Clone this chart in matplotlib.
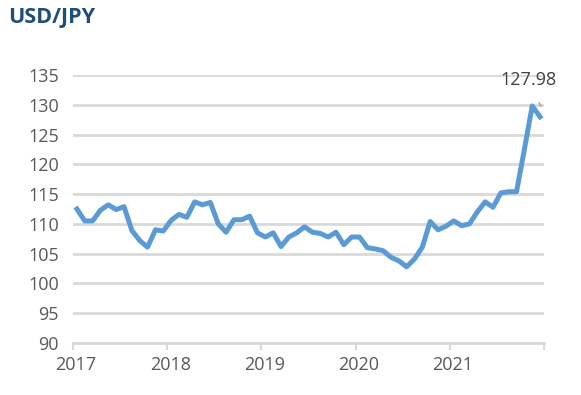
import numpy as np
import matplotlib
matplotlib.use("Agg")
import matplotlib.pyplot as plt
import matplotlib.transforms as mtrans

# monthly USD/JPY, Jan 2017 .. Dec 2021
rates = [112.5, 110.5, 110.5, 112.3, 113.2, 112.4, 112.9, 108.9, 107.2, 106.1, 109.0, 108.8,
         110.6, 111.6, 111.1, 113.7, 113.2, 113.6, 110.0, 108.6, 110.7, 110.7, 111.3, 108.5,
         107.8, 108.5, 106.2, 107.8, 108.5, 109.5, 108.6, 108.4, 107.8, 108.6, 106.5, 107.8,
         107.8, 106.0, 105.8, 105.5, 104.4, 103.8, 102.8, 104.1, 106.1, 110.4, 109.0, 109.6,
         110.5, 109.7, 110.0, 112.0, 113.7, 112.8, 115.2, 115.4, 115.4, 122.5, 129.8, 127.98]
years = ["2017", "2018", "2019", "2020", "2021"]
y_ticks = list(range(90, 136, 5))

plt.rcParams['font.family'] = ['Open Sans', 'DejaVu Sans']

fig = plt.figure(figsize=(5.81, 3.95), dpi=100)
ax = fig.add_axes([73/581, 1 - 343/395, (544 - 73)/581, (343 - 75)/395])

x = np.arange(len(rates))
ax.plot(x, rates, color="#5B9BD5", lw=3.6, solid_joinstyle="round", zorder=3)

ax.set_xlim(-0.5, len(rates) - 0.5)
ax.set_ylim(90, 135)
ax.set_yticks(y_ticks)
ax.set_yticklabels([str(v) for v in y_ticks])
ax.grid(axis="y", color="#D9D9D9", lw=2.0)
ax.set_axisbelow(True)

# category ticks at year boundaries, labels on the boundary ticks
bounds = np.arange(0, len(rates) + 1, 12) - 0.5
ax.set_xticks(bounds)
ax.set_xticklabels(years + [""])
ax.tick_params(axis="x", length=5, width=1.5, color="#D9D9D9", pad=4,
               labelsize=13, labelcolor="#595959")
ax.tick_params(axis="y", length=0, pad=10, labelsize=13, labelcolor="#595959")
shift = mtrans.ScaledTranslation(3/100, 0, fig.dpi_scale_trans)
for lab in ax.get_xticklabels():
    lab.set_horizontalalignment("center")
    lab.set_transform(lab.get_transform() + shift)

for s in ["top", "right", "left"]:
    ax.spines[s].set_visible(False)
ax.spines["bottom"].set_color("#D9D9D9")
ax.spines["bottom"].set_linewidth(2.0)

# last value label
ax.annotate(f"{rates[-1]:.2f}", xy=(x[-1] + 0.1, rates[-1] + 1.8), xytext=(x[-1] - 1.5, 134.2),
            ha="center", va="center", fontsize=13, color="#404040",
            arrowprops=dict(arrowstyle="-", color="#A6A6A6", lw=1.2, shrinkA=9, shrinkB=0))

fig.text(8/581, 1 - 18/395, "USD/JPY", fontsize=15.5, fontweight="bold",
         color="#1F4E79", ha="left", va="center")

fig.savefig("out.png", dpi=100)
